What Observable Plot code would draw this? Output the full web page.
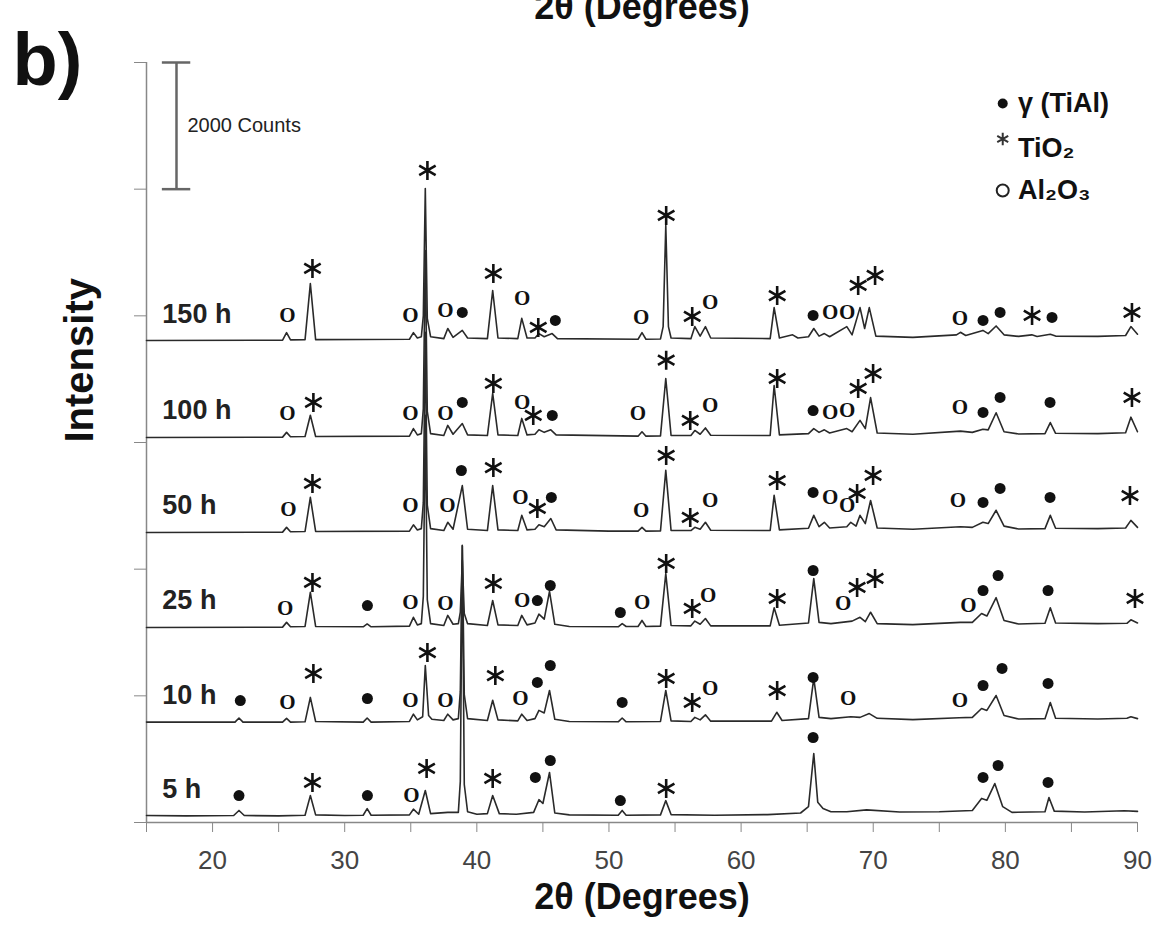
<!DOCTYPE html>
<html>
<head>
<meta charset="utf-8">
<script src="https://cdn.jsdelivr.net/npm/d3@7"></script>
<script src="https://cdn.jsdelivr.net/npm/@observablehq/plot@0.6"></script>
<style>
  html, body { margin: 0; padding: 0; background: #fff; }
  #chart { width: 1160px; height: 941px; }
</style>
</head>
<body>
<div id="chart"></div>
<script>
// Oxidation times (bottom to top) and vertical stacking offsets (counts)
const times = ["5 h", "10 h", "25 h", "50 h", "100 h", "150 h"];
const offsets = [0, 1470, 2970, 4470, 5970, 7500];

// XRD traces: [2θ, intensity counts]
const trace5h = [[15,110],[18,105],[21.6,110],[22.0,190],[22.4,110],[25,105],[27.0,115],[27.4,425],[27.8,120],[30,110],[31.4,115],[31.7,220],[32.0,115],[34.9,120],[35.2,210],[35.6,130],[36.1,505],[36.5,140],[37.8,160],[38.6,160],[38.75,650],[38.9,4375],[39.05,600],[39.3,170],[40.0,130],[40.8,140],[41.2,425],[41.7,140],[43,130],[44.3,160],[44.7,360],[45.0,300],[45.5,790],[45.9,150],[47,120],[50.7,115],[51.0,190],[51.3,115],[53.9,120],[54.3,345],[54.7,125],[58,115],[62,125],[64.5,150],[65.1,250],[65.5,1090],[65.8,320],[66.2,220],[66.8,170],[68,170],[69.5,200],[72,165],[75,170],[77.5,190],[78.2,380],[78.6,350],[79.2,615],[79.8,250],[80.5,160],[83.0,170],[83.3,395],[83.7,180],[86,165],[89,185],[90,175]];
const trace10h = [[15,115],[21.7,115],[22.0,180],[22.3,115],[25.3,115],[25.6,175],[25.9,115],[27.0,120],[27.4,505],[27.8,125],[31.4,115],[31.7,180],[32.0,115],[34.9,125],[35.2,240],[35.5,150],[35.9,200],[36.1,1010],[36.35,220],[36.6,160],[37.5,140],[37.8,240],[38.2,150],[38.6,170],[38.75,600],[38.9,2900],[39.05,550],[39.3,170],[40.8,140],[41.2,460],[41.6,150],[43.1,135],[43.4,240],[43.8,140],[44.4,170],[44.7,300],[45.1,260],[45.5,615],[45.9,160],[47,125],[50.7,120],[51.0,180],[51.3,120],[53.9,125],[54.3,615],[54.7,135],[56.2,125],[56.5,190],[56.9,150],[57.3,230],[57.7,130],[62.3,130],[62.7,270],[63.1,140],[65.1,170],[65.5,805],[65.9,190],[66.8,170],[68.3,200],[69.0,190],[69.7,250],[70.3,175],[73,155],[76.5,185],[77.5,190],[78.2,330],[78.6,300],[79.3,535],[79.9,220],[81,165],[83.0,170],[83.4,425],[83.8,175],[87,165],[89.2,175],[89.5,200],[90,170]];
const trace25h = [[15,110],[25.3,115],[25.6,190],[25.9,120],[27.0,125],[27.4,665],[27.8,125],[31.4,120],[31.7,165],[32.0,120],[34.9,130],[35.2,270],[35.5,150],[35.8,170],[35.95,600],[36.1,3460],[36.25,550],[36.5,170],[37.5,140],[37.8,300],[38.2,160],[38.6,170],[38.75,350],[38.9,1170],[39.05,330],[39.3,170],[40.8,140],[41.2,535],[41.6,150],[43.1,140],[43.4,300],[43.8,150],[44.4,180],[44.7,320],[45.1,240],[45.5,680],[45.9,160],[47,125],[50.7,120],[51.0,170],[51.3,125],[52.2,125],[52.5,220],[52.8,125],[53.9,130],[54.3,960],[54.7,140],[56.2,135],[56.5,210],[56.9,160],[57.3,250],[57.7,135],[62.2,135],[62.5,420],[62.9,145],[65.1,180],[65.5,880],[65.9,190],[66.8,170],[68.4,210],[69.0,270],[69.4,200],[69.8,350],[70.3,170],[73,155],[76.6,190],[77.5,190],[78.2,330],[78.6,290],[79.3,580],[79.9,220],[81,165],[83.0,175],[83.4,420],[83.8,180],[87,170],[89.2,175],[89.5,230],[90,180]];
const trace50h = [[15,110],[25.3,115],[25.6,190],[25.9,120],[27.0,125],[27.4,665],[27.8,125],[34.9,130],[35.2,230],[35.5,150],[35.8,170],[35.95,580],[36.1,3270],[36.25,540],[36.5,170],[37.5,140],[37.8,270],[38.2,160],[38.9,850],[39.3,160],[40.8,140],[41.2,850],[41.6,150],[43.1,140],[43.4,380],[43.8,150],[44.4,160],[44.7,230],[45.1,200],[45.6,330],[46.0,150],[50,130],[52.2,130],[52.5,190],[52.8,130],[53.9,135],[54.3,1090],[54.7,140],[56.2,140],[56.5,190],[56.9,160],[57.3,270],[57.7,145],[62.2,140],[62.5,695],[62.9,150],[65.1,175],[65.5,380],[65.9,200],[66.3,270],[66.7,180],[68.0,200],[68.3,270],[68.7,210],[69.0,380],[69.4,250],[69.8,615],[70.3,180],[73,160],[76.6,200],[77.5,190],[78.3,270],[78.7,250],[79.3,460],[79.9,210],[81,165],[83.0,170],[83.4,380],[83.8,175],[87,170],[89.1,180],[89.5,300],[90,190]];
const trace100h = [[15,110],[25.3,115],[25.6,190],[25.9,120],[27.0,125],[27.4,460],[27.8,125],[34.9,130],[35.2,250],[35.5,150],[35.8,170],[35.95,560],[36.1,3060],[36.25,520],[36.5,170],[37.5,140],[37.8,300],[38.2,160],[38.9,330],[39.3,150],[40.8,140],[41.2,805],[41.6,150],[43.1,140],[43.4,410],[43.8,150],[44.4,160],[44.7,230],[45.1,190],[45.6,230],[46.0,150],[52.2,130],[52.5,200],[52.8,130],[53.9,135],[54.3,1040],[54.7,140],[56.2,140],[56.5,220],[56.9,160],[57.3,260],[57.7,145],[62.2,140],[62.5,930],[62.9,150],[65.1,170],[65.5,250],[65.9,190],[66.3,230],[66.7,180],[68.0,250],[68.4,200],[69.0,380],[69.4,250],[69.8,740],[70.3,180],[73,160],[76.6,210],[77.5,190],[78.3,240],[78.7,230],[79.3,500],[79.9,200],[81,165],[83.0,170],[83.4,345],[83.8,175],[87,170],[89.1,185],[89.5,430],[90,200]];
const trace150h = [[15,110],[25.3,115],[25.6,235],[25.9,120],[27.0,125],[27.4,1010],[27.8,125],[34.9,130],[35.2,235],[35.5,150],[35.8,170],[35.95,500],[36.1,2510],[36.25,460],[36.5,170],[37.5,140],[37.8,300],[38.2,160],[38.9,270],[39.3,150],[40.8,140],[41.2,900],[41.6,150],[43.1,140],[43.4,460],[43.8,150],[44.4,150],[44.7,220],[45.1,170],[45.7,220],[46.1,140],[52.2,130],[52.5,235],[52.8,130],[53.9,135],[54.1,330],[54.3,1925],[54.5,330],[54.7,150],[56.2,140],[56.5,330],[56.9,180],[57.3,330],[57.7,150],[62.2,140],[62.5,630],[62.9,150],[63.9,200],[64.3,150],[65.1,170],[65.5,300],[65.9,180],[66.3,220],[66.7,170],[68.0,330],[68.4,200],[69.0,630],[69.35,300],[69.7,630],[70.2,180],[73,160],[76.3,200],[76.6,240],[77.0,190],[78.3,270],[78.7,220],[79.3,340],[79.9,200],[81,175],[82.0,200],[82.4,175],[83.4,210],[83.8,180],[87,175],[89.1,190],[89.5,330],[90,210]];
const traces = [trace5h, trace10h, trace25h, trace50h, trace100h, trace150h];

// Phase markers: [phase, 2θ, counts (absolute, stacked)]
const phases = ["TiAl", "TiO2", "Al2O3"];
const marks5h = [["TiAl",22.0,426],["TiO2",27.56,632],["TiAl",31.72,426],["Al2O3",35.05,426],["TiO2",36.2,853],["TiO2",41.2,695],["TiAl",44.43,711],["TiAl",45.56,979],["TiAl",50.86,347],["TiO2",54.33,537],["TiAl",65.45,1342],["TiAl",78.31,711],["TiAl",79.45,900],["TiAl",83.23,632]];
const marks10h = [["TiAl",22.1,1926],["Al2O3",25.67,1895],["TiO2",27.63,2353],["TiAl",31.72,1958],["Al2O3",34.97,1926],["TiO2",36.26,2684],["Al2O3",37.62,1926],["TiO2",41.4,2321],["Al2O3",43.29,1958],["TiAl",44.58,2211],["TiAl",45.56,2479],["TiAl",51.0,1895],["TiO2",54.33,2274],["TiO2",56.3,1895],["Al2O3",57.66,2116],["TiO2",62.73,2084],["TiAl",65.45,2290],["Al2O3",68.1,1958],["Al2O3",76.57,1926],["TiAl",78.31,2163],["TiAl",79.75,2432],["TiAl",83.23,2195]];
const marks25h = [["Al2O3",25.5,3379],["TiO2",27.56,3790],["TiAl",31.72,3426],["Al2O3",34.97,3474],["Al2O3",37.62,3458],["TiO2",41.25,3774],["Al2O3",43.44,3505],["TiAl",44.58,3505],["TiAl",45.56,3742],["TiAl",50.86,3316],["Al2O3",52.52,3474],["TiO2",54.33,4090],["TiO2",56.3,3379],["Al2O3",57.5,3584],["TiO2",62.73,3537],["TiAl",65.45,3979],["Al2O3",67.72,3458],["TiO2",68.78,3711],["TiO2",70.14,3853],["Al2O3",77.2,3426],["TiAl",78.31,3663],["TiAl",79.45,3900],["TiAl",83.23,3663],["TiO2",89.81,3537]];
const marks50h = [["Al2O3",25.74,4950],["TiO2",27.56,5353],["Al2O3",34.97,5005],["Al2O3",37.77,5005],["TiAl",38.83,5558],["TiO2",41.25,5605],["Al2O3",43.29,5132],["TiO2",44.58,4958],["TiAl",45.64,5132],["Al2O3",52.44,4926],["TiO2",54.33,5795],["TiO2",56.15,4816],["Al2O3",57.66,5084],["TiO2",62.73,5400],["TiAl",65.45,5211],["Al2O3",66.74,5132],["Al2O3",68.02,5005],["TiO2",68.78,5195],["TiO2",69.99,5479],["Al2O3",76.4,5084],["TiAl",78.31,5053],["TiAl",79.6,5274],["TiAl",83.38,5132],["TiO2",89.43,5163]];
const marks100h = [["Al2O3",25.67,6458],["TiO2",27.63,6632],["Al2O3",34.97,6458],["Al2O3",37.62,6458],["TiAl",38.9,6632],["TiO2",41.25,6932],["Al2O3",43.44,6632],["TiO2",44.27,6427],["TiAl",45.71,6427],["Al2O3",52.2,6458],["TiO2",54.33,7300],["TiO2",56.15,6348],["Al2O3",57.66,6584],["TiO2",62.73,7011],["TiAl",65.45,6505],["Al2O3",66.74,6474],["Al2O3",68.02,6505],["TiO2",68.86,6853],["TiO2",69.99,7090],["Al2O3",76.57,6553],["TiAl",78.31,6474],["TiAl",79.6,6711],["TiAl",83.38,6632],["TiO2",89.58,6711]];
const marks150h = [["Al2O3",25.67,8006],["TiO2",27.56,8748],["Al2O3",34.97,8006],["TiO2",36.26,10295],["Al2O3",37.62,8084],["TiAl",38.9,8053],["TiO2",41.25,8669],["Al2O3",43.44,8274],["TiO2",44.65,7816],["TiAl",45.94,7927],["Al2O3",52.44,7974],["TiO2",54.33,9585],["TiO2",56.3,7990],["Al2O3",57.66,8211],["TiO2",62.73,8321],["TiAl",65.45,8006],["Al2O3",66.74,8053],["Al2O3",68.02,8053],["TiO2",68.86,8479],["TiO2",70.14,8637],["Al2O3",76.57,7958],["TiAl",78.31,7927],["TiAl",79.6,8053],["TiO2",82.02,8006],["TiAl",83.53,7974],["TiO2",89.58,8053]];
const markSets = [marks5h, marks10h, marks25h, marks50h, marks100h, marks150h];

// Axis ticks
const xTicks = [15,20,25,30,35,40,45,50,55,60,65,70,75,80,85,90];
const yTicks = [0,2000,4000,6000,8000,10000,12000];
const scaleBarCounts = 2000;

// Legend entries
const legendItems = [
  {phase: "TiAl", label: "γ (TiAl)"},
  {phase: "TiO2", label: "TiO₂"},
  {phase: "Al2O3", label: "Al₂O₃"}
];

// ---- build tables ----
const lineRows = [];
traces.forEach((tr, i) => tr.forEach(([x, y]) => lineRows.push({series: times[i], x, y: y + offsets[i]})));
const markRows = markSets.flat().map(([phase, x, y]) => ({phase, x, y}));
const rowLabels = times.map((t, i) => ({t, y: offsets[i] + 530}));

const font = "'Liberation Sans', Arial, Helvetica, sans-serif";
const xFrameLeft = 15;
const legendX = 79.8, legendTextX = 80.95;
const legendY = [11353, 10642, 9979];
const scaleX = 17.27, scaleTop = 12000;

const plot = Plot.plot({
  width: 1160,
  height: 941,
  marginLeft: 146,
  marginRight: 23,
  marginTop: 62,
  marginBottom: 119,
  x: {domain: [15, 90]},
  y: {domain: [0, 12000]},
  style: {fontFamily: font, background: "white", overflow: "visible"},
  marks: [
    // axes
    Plot.axisX({ticks: xTicks, tickSize: 10, tickPadding: 18, tickFormat: d => d % 10 === 0 ? d : "", fontSize: 26, color: "#444", stroke: "#888", label: null}),
    Plot.axisY({ticks: yTicks, tickSize: 12, tickFormat: () => "", stroke: "#888", label: null}),
    Plot.ruleX([xFrameLeft], {stroke: "#888", strokeWidth: 1.5}),
    Plot.ruleY([0], {stroke: "#888", strokeWidth: 1.5}),
    // traces
    Plot.line(lineRows, {x: "x", y: "y", z: "series", stroke: "#2a2a2a", strokeWidth: 1.6, curve: "linear"}),
    // phase markers
    Plot.dot(markRows.filter(d => d.phase === "TiAl"), {x: "x", y: "y", r: 5.5, fill: "#111", stroke: null}),
    Plot.dot(markRows.filter(d => d.phase === "TiO2"), {x: "x", y: "y", r: 9, symbol: "asterisk", stroke: "#111", strokeWidth: 2.6}),
    Plot.text(markRows.filter(d => d.phase === "Al2O3"), {x: "x", y: "y", text: () => "O", fontSize: 21, fontWeight: "bold", fontFamily: "'Liberation Serif', 'DejaVu Serif', serif", fill: "#111"}),
    // row labels
    Plot.text(rowLabels, {x: 16.2, y: "y", text: "t", textAnchor: "start", fontSize: 27, fontWeight: "bold", fill: "#222"}),
    // scale bar
    Plot.ruleX([scaleX], {y1: scaleTop - scaleBarCounts, y2: scaleTop, stroke: "#666", strokeWidth: 2.5}),
    Plot.ruleY([scaleTop - scaleBarCounts, scaleTop], {x1: 16.2, x2: 18.35, stroke: "#666", strokeWidth: 2.5}),
    Plot.text([`${scaleBarCounts} Counts`], {x: 18.1, y: scaleTop - scaleBarCounts / 2, text: d => d, textAnchor: "start", fontSize: 20, fill: "#222"}),
    // legend
    Plot.dot([legendItems[0]], {x: legendX, y: legendY[0], r: 5, fill: "#111"}),
    Plot.dot([legendItems[1]], {x: legendX, y: legendY[1] + 150, r: 6, symbol: "asterisk", stroke: "#333", strokeWidth: 2}),
    Plot.dot([legendItems[2]], {x: legendX, y: legendY[2], r: 6, stroke: "#222", strokeWidth: 2, fill: "none"}),
    Plot.text(legendItems, {x: legendTextX, y: (d, i) => legendY[i], text: "label", textAnchor: "start", fontSize: 27, fontWeight: "bold", fill: "#111"}),
    // axis titles and panel tag
    Plot.text(["2θ (Degrees)"], {frameAnchor: "bottom", dy: 86, fontSize: 36, fontWeight: "bold", fill: "#111"}),
    Plot.text(["2θ (Degrees)"], {frameAnchor: "top", dy: -44, lineAnchor: "bottom", fontSize: 36, fontWeight: "bold", fill: "#111"}),
    Plot.text(["Intensity"], {frameAnchor: "left", dx: -66, rotate: -90, fontSize: 40, fontWeight: "bold", fill: "#111"}),
    Plot.text(["b)"], {frameAnchor: "top-left", dx: -134, dy: 22, lineAnchor: "bottom", textAnchor: "start", fontSize: 74, fontWeight: "bold", fill: "#111"})
  ]
});
document.getElementById("chart").appendChild(plot);
</script>
</body>
</html>
